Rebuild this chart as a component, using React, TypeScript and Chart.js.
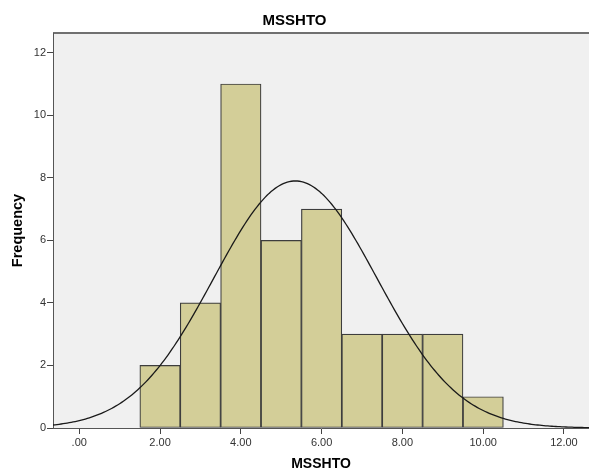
import React, { useEffect, useRef } from "react";
import { Chart, registerables } from "chart.js";

Chart.register(...registerables);

// ---- data ----
const CHART_TITLE = "MSSHTO";
const X_TITLE = "MSSHTO";
const Y_TITLE = "Frequency";

const BIN_CENTERS = [2, 3, 4, 5, 6, 7, 8, 9, 10];
const BIN_COUNTS = [2, 4, 11, 6, 7, 3, 3, 3, 1];
const BIN_WIDTH = 1;

// fitted normal curve parameters (SPSS overlay)
const CURVE_MEAN = 5.35;
const CURVE_SD = 2.02;
const CURVE_STEP = 0.05;

const X_MIN = -0.65;
const X_MAX = 12.62;
const Y_MIN = 0;
const Y_MAX = 12.63;
const X_TICK_STEP = 2;
const Y_TICK_STEP = 2;

const FONT = "'Liberation Sans', Arial, sans-serif";

function buildCurve() {
  const n = BIN_COUNTS.reduce((a, b) => a + b, 0);
  const pts: { x: number; y: number }[] = [];
  const steps = Math.ceil((X_MAX - X_MIN) / CURVE_STEP);
  for (let i = 0; i <= steps; i++) {
    const x = Math.min(X_MIN + i * CURVE_STEP, X_MAX);
    const z = (x - CURVE_MEAN) / CURVE_SD;
    const y = (n * BIN_WIDTH * Math.exp(-0.5 * z * z)) / (CURVE_SD * Math.sqrt(2 * Math.PI));
    pts.push({ x, y });
  }
  return pts;
}

const plotBg = {
  id: "plotBg",
  beforeDraw(chart: any) {
    const { ctx, chartArea } = chart;
    if (!chartArea) return;
    const { left, top, right, bottom } = chartArea;
    ctx.save();
    ctx.fillStyle = "#f0f0f0";
    ctx.fillRect(left, top, right - left, bottom - top);
    ctx.strokeStyle = "#707070";
    ctx.lineWidth = 2;
    ctx.beginPath();
    ctx.moveTo(left, top);
    ctx.lineTo(right, top);
    ctx.stroke();
    ctx.restore();
  },
};

export default function App() {
  const ref = useRef<HTMLCanvasElement | null>(null);

  useEffect(() => {
    document.body.style.margin = "0";
    const canvas = ref.current;
    if (!canvas) return;
    const chart = new Chart(canvas, {
      data: {
        datasets: [
          {
            type: "line",
            data: buildCurve(),
            borderColor: "#1a1a1a",
            borderWidth: 1.3,
            pointRadius: 0,
            tension: 0,
            fill: false,
            order: 0,
          } as any,
          {
            type: "bar",
            data: BIN_CENTERS.map((c, i) => ({ x: c, y: BIN_COUNTS[i] })),
            backgroundColor: "#d3ce98",
            borderColor: "#3d3d3d",
            borderWidth: 1.2,
            borderSkipped: false,
            barPercentage: 1,
            categoryPercentage: 1,
            grouped: false,
            order: 1,
          } as any,
        ],
      },
      options: {
        responsive: false,
        animation: false,
        devicePixelRatio: 1,
        layout: { padding: 0 },
        plugins: {
          legend: { display: false },
          tooltip: { enabled: false },
          title: {
            display: true,
            text: CHART_TITLE,
            color: "#000",
            font: { family: FONT, size: 15, weight: "bold" },
            padding: { top: 12, bottom: 3 },
          },
        },
        scales: {
          x: {
            type: "linear",
            min: X_MIN,
            max: X_MAX,
            offset: false,
            ticks: {
              stepSize: X_TICK_STEP,
              includeBounds: false,
              autoSkip: false,
              maxRotation: 0,
              padding: 2,
              color: "#333",
              font: { family: FONT, size: 11 },
              callback: (v: any) => Number(v).toFixed(2).replace(/^0\./, "."),
            },
            grid: {
              offset: false,
              drawOnChartArea: false,
              drawTicks: true,
              tickLength: 6,
              tickColor: "#444",
            },
            border: { display: true, color: "#555", width: 1 },
            title: {
              display: true,
              text: X_TITLE,
              color: "#000",
              font: { family: FONT, size: 14, weight: "bold" },
              padding: { top: 0, bottom: 2 },
            },
            afterFit: (s: any) => {
              s.height = 47;
            },
          },
          y: {
            type: "linear",
            min: Y_MIN,
            max: Y_MAX,
            ticks: {
              stepSize: Y_TICK_STEP,
              includeBounds: false,
              padding: 1,
              color: "#333",
              font: { family: FONT, size: 11 },
            },
            grid: {
              drawOnChartArea: false,
              drawTicks: true,
              tickLength: 6,
              tickColor: "#444",
            },
            border: { display: true, color: "#555", width: 1 },
            title: {
              display: true,
              text: Y_TITLE,
              color: "#000",
              font: { family: FONT, size: 14.5, weight: "bold" },
              padding: { top: 9, bottom: 0 },
            },
            afterFit: (s: any) => {
              s.width = 53;
            },
          },
        },
      } as any,
      plugins: [plotBg],
    });
    return () => chart.destroy();
  }, []);

  return (
    <div style={{ width: 589, height: 475 }}>
      <canvas ref={ref} width={589} height={475} style={{ display: "block", width: 589, height: 475 }} />
    </div>
  );
}
